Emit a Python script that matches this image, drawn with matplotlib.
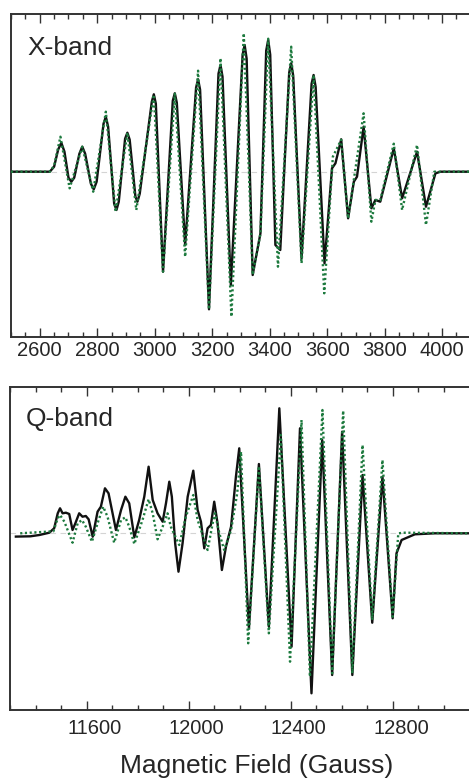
import matplotlib
matplotlib.use("Agg")
import matplotlib.pyplot as plt
from matplotlib.ticker import MultipleLocator
from matplotlib.transforms import ScaledTranslation

plt.rcParams["font.family"] = ["Liberation Sans", "DejaVu Sans"]

# X-band: experiment (solid) and simulation (dotted), field in Gauss, signal in a.u.
xband_field_exp = [2500, 2635, 2650, 2664, 2675, 2686, 2700, 2710, 2720, 2738, 2748, 2758, 2778, 2788, 2798,
                   2822, 2830, 2838, 2859, 2867, 2875, 2897, 2905, 2913, 2933, 2940, 2948,
                   2990, 2997, 3004, 3029, 3063, 3070, 3077, 3106, 3144, 3151, 3158, 3189,
                   3222, 3229, 3236, 3265, 3306, 3313, 3320, 3341, 3368, 3388, 3395, 3402,
                   3420, 3437, 3468, 3475, 3482, 3511, 3546, 3553, 3560, 3591, 3617, 3629,
                   3649, 3673, 3693, 3704, 3727, 3754, 3768, 3785, 3832, 3861, 3913, 3944,
                   3977, 3995, 4100]
xband_signal_exp = [0, 0, 5, 22, 29, 20, -6, -10, -6, 18, 25, 18, -12, -17.6, -10,
                    48, 55, 45, -32, -38.3, -30, 33, 39, 32, -25, -30, -22,
                    70, 77.4, 68, -100, 71, 78.4, 69, -73.3, 84, 92.4, 82, -137.6,
                    98, 106.7, 95, -113.3, 117, 126.7, 113, -103.3, -61.6, 121, 131.7, 117,
                    -73.3, -78.3, 99, 108.4, 96, -86.6, 88, 96.7, 85, -91.6, 3.4, 8.4,
                    32.4, -46.6, -10, -5, 45, -36.6, -28.3, -30, 23.4, -26.6, 20, -35,
                    -1.6, 0, 0]

xband_field_sim = [2500, 2635, 2650, 2672, 2704, 2748, 2786, 2830, 2864, 2905, 2936, 2997, 3029,
                   3070, 3106, 3151, 3189, 3229, 3267, 3310, 3341, 3368, 3395, 3429, 3475, 3511,
                   3553, 3590, 3620, 3649, 3673, 3693, 3727, 3754, 3768, 3785, 3832, 3861, 3913,
                   3944, 3973, 4100]
xband_signal_sim = [0, 0, 6, 35, -16.6, 25, -20, 60, -40, 39, -38.3, 77, -100,
                    78, -85, 101, -137.6, 113.4, -145, 138.4, -103, -62, 133, -95, 125, -91.6,
                    96.7, -121.6, 15, 32, -46.6, -8, 58.4, -50, -28.3, -28.3, 28, -38.3, 26.7,
                    -53.3, 0, 0]

# Q-band
qband_field_exp = [11323, 11380, 11415, 11454, 11473, 11487, 11496, 11506, 11519, 11532, 11545, 11556,
                   11571, 11584, 11597, 11608, 11624, 11643, 11656, 11672, 11686, 11715, 11735, 11752,
                   11767, 11787, 11806, 11826, 11843, 11859, 11878, 11898, 11911, 11924, 11934, 11947,
                   11960, 11976, 11996, 12018, 12035, 12048, 12061, 12074, 12087, 12100, 12113, 12130,
                   12146, 12166, 12185, 12198, 12236, 12275, 12314, 12355, 12403, 12436, 12481, 12523,
                   12562, 12601, 12641, 12681, 12719, 12759, 12799, 12814, 12834, 12886, 12964, 13095]
qband_signal_exp = [-3.3, -3, -1.7, 0.6, 5, 20, 25, 20, 20.6, 19.3, 3.3, 10,
                    20, 16.6, 17.3, 14, -3.4, 21.6, 26.6, 45, 40, 3.3, 23.3, 36.6,
                    30, -4, 13.3, 36.6, 66.6, 33.3, 20, 11.6, 30, 51.6, 36.6, -10,
                    -38.4, -10, 36.6, 62.6, 23.3, 11.6, -15, 5, 8.3, 31.6, 10, -36.7,
                    -13.4, 6.6, 56.6, 85, -95, 69.3, -93.4, 125, -113.4, 105, -160, 93.3,
                    -141.7, 101.6, -141.7, 58.3, -89.4, 56.6, -85, -20, -6.7, -1, 0, 0]

qband_field_sim = [11340, 11470, 11487, 11496, 11513, 11545, 11565, 11582, 11597, 11621, 11643, 11665,
                   11682, 11708, 11735, 11752, 11767, 11787, 11819, 11843, 11859, 11878, 11898, 11917,
                   11930, 11963, 11989, 12018, 12035, 12074, 12094, 12103, 12120, 12139, 12166, 12190,
                   12205, 12233, 12275, 12314, 12361, 12397, 12442, 12475, 12524, 12562, 12605, 12641,
                   12681, 12719, 12759, 12799, 12821, 12847, 13095]
qband_signal_sim = [0, 2, 15, 18.3, 11.6, -9.4, 10, 13.3, 6.6, -8.4, 10, 26.6,
                    16.6, -9.4, 13.3, 16, 6.6, -10.7, 13.3, 34, 20, -6, 6.6, 20,
                    6.6, -11.7, 16.6, 38.3, 13.3, -16.7, 10, 20, 0, -16.7, 3.3, 40,
                    81.6, -110, 67, -100, 98.3, -128.4, 113.3, -143.4, 123.3, -140, 122.6, -140,
                    88.3, -86.6, 73.3, -83.4, 0, 0.6, 0]

W, H = 469, 783
fig = plt.figure(figsize=(W / 100, H / 100), dpi=100)

text_color = "#262626"
spine_color = "#333333"


def style_axis(ax, major, minor, pad):
    ax.xaxis.set_major_locator(MultipleLocator(major))
    ax.xaxis.set_minor_locator(MultipleLocator(minor))
    ax.tick_params(axis="x", which="both", direction="in", top=True, bottom=True,
                   color=spine_color, labelcolor=text_color, labelsize=14.5, pad=pad)
    ax.tick_params(axis="x", which="major", length=6.5, width=1.0)
    ax.tick_params(axis="x", which="minor", length=3.3, width=1.0)
    ax.tick_params(axis="y", left=False, right=False, labelleft=False)
    for sp in ax.spines.values():
        sp.set_linewidth(1.4)
        sp.set_color(spine_color)
    ax.spines["right"].set_visible(False)


def draw(ax, fe, se, fs, ss):
    ax.axhline(0, color="#d4d4d4", lw=0.8, ls=(0, (5, 4)), zorder=1)
    ax.plot(fe, se, color="#111111", lw=1.7, solid_joinstyle="round", zorder=3)
    ax.plot(fs, ss, color="#1d7a3e", lw=1.7, ls=(0, (0.9, 1.1)), zorder=4)


# top panel (X-band)
ax1 = fig.add_axes([11 / W, 1 - 337 / H, 459.8 / W, 323 / H])
draw(ax1, xband_field_exp, xband_signal_exp, xband_field_sim, xband_signal_sim)
ax1.set_xlim(2500, 4100)
ax1.set_ylim(-165.3, 157.7)
style_axis(ax1, 200, 50, 3)
ax1.set_xticks([2600, 2800, 3000, 3200, 3400, 3600, 3800, 4000])

# bottom panel (Q-band)
ax2 = fig.add_axes([10 / W, 1 - 710 / H, 459.5 / W, 323 / H])
draw(ax2, qband_field_exp, qband_signal_exp, qband_field_sim, qband_signal_sim)
ax2.set_xlim(11300, 13100)
ax2.set_ylim(-176.7, 146.3)
style_axis(ax2, 400, 100, 6.5)
ax2.set_xticks([11600, 12000, 12400, 12800])
shift = ScaledTranslation(8 / 100, 0, fig.dpi_scale_trans)
for lab in ax2.get_xticklabels():
    lab.set_transform(lab.get_transform() + shift)

fig.text(27 / W, 1 - 55 / H, "X-band", fontsize=19, color=text_color, ha="left", va="baseline")
fig.text(26 / W, 1 - 426 / H, "Q-band", fontsize=19, color=text_color, ha="left", va="baseline")
fig.text(257 / W, 1 - 773 / H, "Magnetic Field (Gauss)", fontsize=19, color=text_color,
         ha="center", va="baseline")

fig.savefig("out.png", dpi=100)
